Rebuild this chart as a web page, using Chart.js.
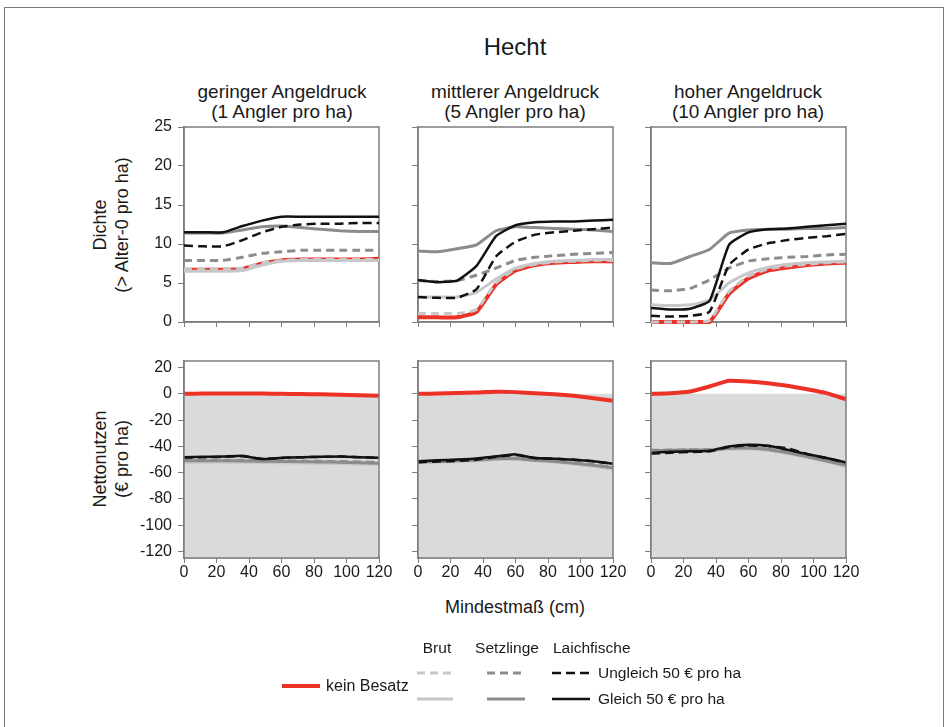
<!DOCTYPE html>
<html>
<head>
<meta charset="utf-8">
<script src="https://cdn.jsdelivr.net/npm/chart.js@4.4.1/dist/chart.umd.min.js"></script>
<style>
  body { margin: 0; background: #fff; font-family: "Liberation Sans", Arial, sans-serif; color: #1a1a1a; }
  #page { position: relative; width: 947px; height: 727px; overflow: hidden; }
  #frame { position: absolute; left: 4px; top: 7px; width: 938px; height: 760px; border: 1px solid #7a7a7a; }
  canvas { position: absolute; }
  .txt { position: absolute; white-space: nowrap; transform: translate(-50%, -50%); }
  .left { position: absolute; white-space: nowrap; transform: translateY(-50%); }
  .ytitle { position: absolute; white-space: nowrap; text-align: center; font-size: 18px; line-height: 22px;
            transform: translate(-50%, -50%) rotate(-90deg); }
</style>
</head>
<body>
<div id="page">
  <div id="frame"></div>

  <div class="txt" style="left:515px; top:47px; font-size:24px;">Hecht</div>

  <div class="txt" style="left:282px; top:92px; font-size:19px;">geringer Angeldruck</div>
  <div class="txt" style="left:282px; top:112px; font-size:19px;">(1 Angler pro ha)</div>
  <div class="txt" style="left:515px; top:92px; font-size:19px;">mittlerer Angeldruck</div>
  <div class="txt" style="left:515px; top:112px; font-size:19px;">(5 Angler pro ha)</div>
  <div class="txt" style="left:748px; top:92px; font-size:19px;">hoher Angeldruck</div>
  <div class="txt" style="left:748px; top:112px; font-size:19px;">(10 Angler pro ha)</div>

  <div class="ytitle" style="left:111px; top:225px;">Dichte<br>(&gt; Alter-0 pro ha)</div>
  <div class="ytitle" style="left:111px; top:459px;">Nettonutzen<br>(€ pro ha)</div>

  <div class="txt" style="left:515px; top:607px; font-size:18px;">Mindestmaß (cm)</div>

  <canvas id="c00"></canvas><canvas id="c01"></canvas><canvas id="c02"></canvas>
  <canvas id="c10"></canvas><canvas id="c11"></canvas><canvas id="c12"></canvas>

  <!-- Legende -->
  <svg style="position:absolute; left:0; top:0;" width="947" height="727">
    <line x1="282" y1="686" x2="320" y2="686" stroke="#ec3127" stroke-width="4"/>
    <line x1="417" y1="673" x2="453" y2="673" stroke="#c6c7c9" stroke-width="3" stroke-dasharray="8 5"/>
    <line x1="417" y1="699" x2="453" y2="699" stroke="#c6c7c9" stroke-width="3"/>
    <line x1="487" y1="673" x2="525" y2="673" stroke="#8c8c8c" stroke-width="3" stroke-dasharray="8 5"/>
    <line x1="487" y1="699" x2="525" y2="699" stroke="#8c8c8c" stroke-width="3"/>
    <line x1="552" y1="673" x2="590" y2="673" stroke="#111" stroke-width="2.5" stroke-dasharray="9 5"/>
    <line x1="552" y1="699" x2="590" y2="699" stroke="#111" stroke-width="2.5"/>
  </svg>
  <div class="txt" style="left:437px; top:648px; font-size:15.5px;">Brut</div>
  <div class="txt" style="left:507px; top:648px; font-size:15.5px;">Setzlinge</div>
  <div class="left" style="left:553px; top:648px; font-size:15.5px;">Laichfische</div>
  <div class="left" style="left:326px; top:686px; font-size:16px;">kein Besatz</div>
  <div class="left" style="left:598px; top:673px; font-size:15.5px;">Ungleich 50 € pro ha</div>
  <div class="left" style="left:598px; top:699px; font-size:15.5px;">Gleich 50 € pro ha</div>
</div>

<script>
// Mindestmaß (cm) – x-Werte
const xs = [0, 12, 24, 36, 48, 60, 72, 84, 96, 108, 120];
const xTicks = [0, 20, 40, 60, 80, 100, 120];
const yTicksDichte = [0, 5, 10, 15, 20, 25];
const yTicksNutzen = [-120, -100, -80, -60, -40, -20, 0, 20];

// Reihenfolge der Reihen in jedem Panel:
// kein Besatz, Brut ungleich, Brut gleich, Setzlinge ungleich, Setzlinge gleich, Laichfische ungleich, Laichfische gleich
const seriesNames = ["kein Besatz", "Brut (Ungleich)", "Brut (Gleich)", "Setzlinge (Ungleich)",
                     "Setzlinge (Gleich)", "Laichfische (Ungleich)", "Laichfische (Gleich)"];

// Dichte (> Alter-0 pro ha)
const dichteGering = [
  [6.7, 6.7, 6.7, 6.8, 7.5, 7.9, 8.0, 8.0, 8.0, 8.0, 8.1],
  [6.8, 6.8, 6.8, 6.9, 7.6, 7.9, 8.0, 8.0, 8.0, 8.0, 8.0],
  [6.5, 6.5, 6.5, 6.6, 7.3, 7.8, 7.9, 7.9, 7.9, 7.9, 7.9],
  [7.9, 7.9, 7.9, 8.3, 8.8, 9.0, 9.2, 9.2, 9.2, 9.2, 9.2],
  [11.4, 11.4, 11.4, 11.8, 12.2, 12.3, 12.1, 11.9, 11.7, 11.6, 11.6],
  [9.8, 9.7, 9.7, 10.5, 11.5, 12.2, 12.5, 12.6, 12.6, 12.7, 12.7],
  [11.5, 11.5, 11.5, 12.3, 13.0, 13.5, 13.5, 13.5, 13.5, 13.5, 13.5]
];
const dichteMittel = [
  [0.6, 0.6, 0.6, 1.3, 4.8, 6.6, 7.3, 7.6, 7.7, 7.8, 7.8],
  [1.1, 1.1, 1.1, 1.6, 5.0, 6.8, 7.4, 7.7, 7.8, 7.9, 7.9],
  [3.2, 3.2, 3.2, 3.8, 5.5, 6.9, 7.5, 7.8, 7.9, 8.0, 8.0],
  [5.3, 5.2, 5.3, 6.0, 6.9, 7.9, 8.3, 8.5, 8.7, 8.8, 8.9],
  [9.1, 9.0, 9.4, 9.9, 11.7, 12.2, 12.1, 12.0, 11.9, 11.8, 11.6],
  [3.2, 3.1, 3.1, 4.2, 8.4, 10.3, 11.2, 11.5, 11.7, 11.9, 12.1],
  [5.4, 5.1, 5.3, 7.2, 11.0, 12.4, 12.8, 12.9, 12.9, 13.0, 13.1]
];
const dichteHoch = [
  [0, 0, 0, 0, 3.6, 5.6, 6.6, 7.0, 7.3, 7.5, 7.6],
  [0, 0, 0, 0.2, 3.9, 5.9, 6.8, 7.2, 7.4, 7.6, 7.7],
  [2.2, 2.1, 2.2, 2.8, 5.0, 6.3, 7.0, 7.4, 7.6, 7.7, 7.8],
  [4.1, 4.0, 4.3, 5.4, 6.9, 7.8, 8.1, 8.3, 8.4, 8.6, 8.7],
  [7.6, 7.5, 8.4, 9.3, 11.4, 11.8, 11.9, 11.9, 12.0, 12.0, 12.1],
  [0.8, 0.7, 0.8, 1.3, 7.3, 9.3, 10.1, 10.5, 10.8, 11.0, 11.3],
  [1.8, 1.6, 1.7, 2.7, 9.9, 11.5, 11.9, 12.0, 12.2, 12.4, 12.6]
];

// Nettonutzen (€ pro ha)
const nutzenGering = [
  [0, 0.2, 0.3, 0.3, 0.2, 0, -0.2, -0.4, -0.7, -1.0, -1.5],
  [-51.5, -51.5, -51.5, -51.6, -51.8, -52.0, -52.2, -52.4, -52.6, -52.9, -53.2],
  [-52.0, -52.0, -52.0, -52.1, -52.3, -52.5, -52.7, -52.9, -53.1, -53.4, -53.7],
  [-50.5, -50.5, -50.5, -50.6, -50.8, -51.0, -51.2, -51.4, -51.6, -51.9, -52.2],
  [-51.0, -51.0, -51.0, -51.1, -51.3, -51.5, -51.7, -51.9, -52.1, -52.4, -52.8],
  [-48.5, -48.3, -48.0, -47.5, -49.5, -48.8, -48.3, -48.0, -47.8, -48.2, -48.7],
  [-48.2, -48.0, -47.8, -47.2, -49.7, -48.7, -48.2, -47.9, -47.7, -48.2, -48.7]
];
const nutzenMittel = [
  [0, 0.3, 0.6, 1.0, 1.5, 1.3, 0.5, -0.3, -1.5, -3.3, -5.3],
  [-52.0, -51.6, -51.0, -50.4, -49.5, -49.5, -50.5, -51.5, -52.8, -54.5, -56.8],
  [-52.5, -52.0, -51.5, -50.8, -50.0, -50.0, -51.0, -52.0, -53.5, -55.2, -57.5],
  [-51.8, -51.3, -50.8, -50.2, -49.2, -49.0, -50.2, -51.2, -52.5, -54.0, -56.0],
  [-52.0, -51.5, -51.0, -50.4, -49.5, -49.3, -50.5, -51.5, -52.8, -54.3, -56.3],
  [-52.0, -51.5, -51.0, -50.2, -48.0, -46.5, -48.9, -49.4, -50.1, -51.4, -53.2],
  [-51.4, -50.6, -50.0, -49.2, -47.6, -46.1, -48.9, -49.4, -50.1, -51.4, -53.2]
];
const nutzenHoch = [
  [0, 0.5, 1.8, 5.6, 9.9, 9.4, 8.1, 6.1, 3.5, 0.5, -4.1],
  [-43.5, -43.2, -43.0, -43.0, -41.8, -41.5, -42.5, -45.0, -48.0, -51.2, -55.0],
  [-44.0, -43.7, -43.5, -43.5, -42.2, -42.0, -43.0, -45.5, -48.5, -51.8, -55.5],
  [-43.0, -42.8, -42.6, -42.6, -41.2, -41.0, -42.0, -44.5, -47.5, -50.8, -54.2],
  [-43.3, -43.0, -42.8, -42.8, -41.5, -41.2, -42.3, -44.8, -47.8, -51.0, -54.5],
  [-45.5, -44.8, -44.3, -43.8, -40.5, -39.3, -39.8, -41.5, -45.8, -48.9, -52.3],
  [-45.1, -44.1, -43.8, -43.3, -40.0, -38.8, -39.6, -42.6, -45.9, -48.9, -52.3]
];

// Linienstile (Farbe, Breite, Strichelung, Zeichenreihenfolge: kleiner = weiter oben)
const styles = [
  { color: "#ec3127", width: 4,   dash: [],     order: 6 },
  { color: "#c6c7c9", width: 3,   dash: [8, 5], order: 4 },
  { color: "#c6c7c9", width: 3,   dash: [],     order: 5 },
  { color: "#8c8c8c", width: 3,   dash: [8, 5], order: 2 },
  { color: "#8c8c8c", width: 3,   dash: [],     order: 3 },
  { color: "#111111", width: 2.5, dash: [9, 5], order: 1 },
  { color: "#111111", width: 2.5, dash: [],     order: 0 }
];

// Layout
const AXIS_W = 50, PAD_T = 18, PAD_R = 20, PLOT_W = 195;
const colLeft = [184, 418, 651];
const rows = [
  { top: 127, h: 195, xH: 18, min: 0, max: 25, ticks: yTicksDichte, panels: [dichteGering, dichteMittel, dichteHoch] },
  { top: 361, h: 197, xH: 34, min: -125, max: 25, ticks: yTicksNutzen, panels: [nutzenGering, nutzenMittel, nutzenHoch] }
];

Chart.defaults.font.family = '"Liberation Sans", Arial, sans-serif';
Chart.defaults.font.size = 16;
Chart.defaults.color = "#1a1a1a";

// Rahmen um die Zeichenfläche
const boxPlugin = {
  id: "box",
  beforeDatasetsDraw(chart) {
    if (chart.options.plugins.box.after) return;
    strokeBox(chart);
  },
  afterDatasetsDraw(chart) {
    if (!chart.options.plugins.box.after) return;
    strokeBox(chart);
  }
};
function strokeBox(chart) {
  const { ctx, chartArea: a } = chart;
  ctx.save();
  ctx.strokeStyle = "#7d7d7d";
  ctx.lineWidth = 1.5;
  ctx.strokeRect(a.left, a.top, a.right - a.left, a.bottom - a.top);
  ctx.restore();
}

function makePanel(r, c) {
  const row = rows[r];
  const series = row.panels[c];
  const canvas = document.getElementById("c" + r + c);
  const w = AXIS_W + PLOT_W + PAD_R;
  const h = PAD_T + row.h + row.xH;
  canvas.width = w; canvas.height = h;
  canvas.style.left = (colLeft[c] - AXIS_W) + "px";
  canvas.style.top = (row.top - PAD_T) + "px";

  const datasets = series.map((vals, i) => ({
    label: seriesNames[i],
    data: xs.map((x, j) => ({ x: x, y: vals[j] })),
    borderColor: styles[i].color,
    borderWidth: styles[i].width,
    borderDash: styles[i].dash,
    order: styles[i].order,
    pointRadius: 0,
    fill: false,
    tension: 0.15,
    clip: false
  }));
  if (r === 1) {
    // graue Fläche unterhalb von 0
    datasets.push({
      label: "Verlustbereich",
      data: [{ x: xTicks[0], y: 0 }, { x: xTicks[xTicks.length - 1], y: 0 }],
      borderWidth: 0,
      backgroundColor: "#d9dadc",
      fill: "start",
      pointRadius: 0,
      order: 99
    });
  }

  new Chart(canvas, {
    type: "line",
    data: { datasets },
    plugins: [boxPlugin],
    options: {
      responsive: false,
      animation: false,
      layout: { padding: { top: PAD_T, right: PAD_R, left: 0, bottom: 0 } },
      plugins: { legend: { display: false }, tooltip: { enabled: false }, box: { after: r === 1 } },
      scales: {
        x: {
          type: "linear", min: 0, max: 120,
          afterBuildTicks: s => { s.ticks = xTicks.map(v => ({ value: v })); },
          afterFit: s => { s.height = row.xH; },
          ticks: { display: r === 1, padding: 0, maxRotation: 0, autoSkip: false },
          grid: { drawOnChartArea: false, drawTicks: true, tickLength: 5, color: "#7d7d7d" },
          border: { color: "#7d7d7d", width: 1.5 }
        },
        y: {
          min: row.min, max: row.max,
          afterBuildTicks: s => { s.ticks = row.ticks.map(v => ({ value: v })); },
          afterFit: s => { s.width = AXIS_W; },
          ticks: { display: c === 0, padding: 6, autoSkip: false },
          grid: { drawOnChartArea: false, drawTicks: true, tickLength: 6, color: "#7d7d7d" },
          border: { color: "#7d7d7d", width: 1.5 }
        }
      }
    }
  });
}

for (let r = 0; r < 2; r++) {
  for (let c = 0; c < 3; c++) makePanel(r, c);
}
</script>
</body>
</html>
